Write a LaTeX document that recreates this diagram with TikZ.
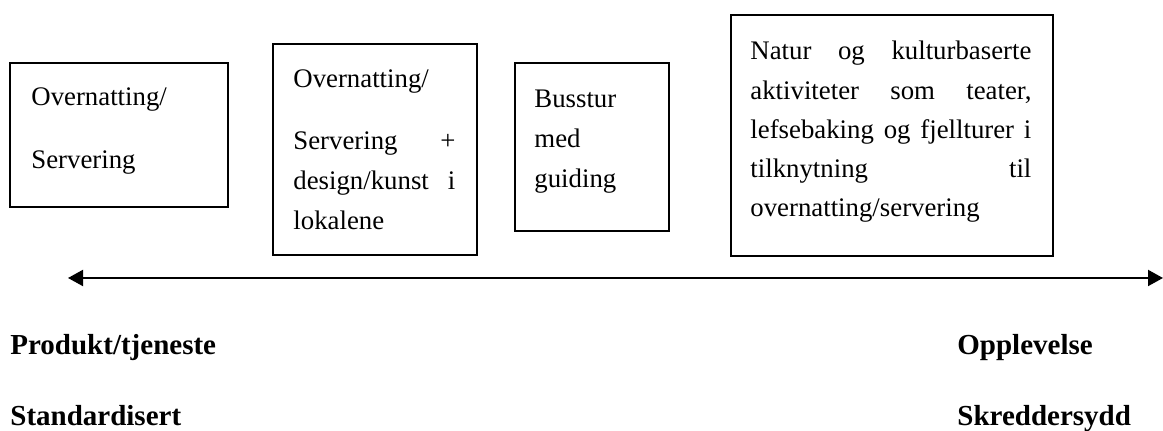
\documentclass[tikz,border=0pt]{standalone}
\usepackage{fontspec}
\setmainfont{Liberation Serif}
\usetikzlibrary{arrows.meta}
\begin{document}
\begin{tikzpicture}[x=0.5pt,y=-0.5pt,
  box/.style={draw, line width=0.9pt, inner sep=0pt, anchor=north west},
  body/.style={anchor=north west, inner sep=0pt, align=left, font=\fontsize{13.4}{20}\selectfont},
  lab/.style={anchor=base west, inner sep=0pt, font=\fontsize{14.5}{17}\selectfont\bfseries},
  axis/.style={line width=1pt, {Triangle[length=7.5pt,width=8pt]}-{Triangle[length=7.5pt,width=8pt]}}]
\useasboundingbox (0,0) rectangle (1163,431);
% boxes
\node[box, minimum width=109pt, minimum height=72pt] (b1) at (9,62) {};
\node[box, minimum width=102pt, minimum height=105.5pt] (b2) at (272,43) {};
\node[box, minimum width=77pt, minimum height=84pt] (b3) at (514,62) {};
\node[box, minimum width=161pt, minimum height=120.5pt] (b4) at (730,14) {};
% texts
\node[body] (t1) at (31,77) {\strut Overnatting/\\[11.5pt]Servering};
\node[body, text width=81pt] (t2) at (293,59) {\strut Overnatting/\\[11pt]Servering\hfill+\\design/kunst\hfill i\\lokalene};
\node[body] (t3) at (534,79) {\strut Busstur\\med\\guiding};
\node[body, text width=140.5pt, font=\fontsize{13.4}{19.6}\selectfont] (t4) at (750,32) {\strut Natur\hfill og\hfill kulturbaserte\\aktiviteter\hfill som\hfill teater,\\lefsebaking\hfill og\hfill fjellturer\hfill i\\tilknytning\hfill til\\overnatting/servering};
% axis
\coordinate (L) at (68,278);
\coordinate (R) at (1163,278);
\draw[axis] (L) -- (R);
% labels
\node[lab] (p) at (10,355) {Produkt/tjeneste};
\node[lab] (s) at (10,426) {Standardisert};
\node[lab] (o) at (957,355) {Opplevelse};
\node[lab] (k) at (957,426) {Skreddersydd};
\end{tikzpicture}
\end{document}
